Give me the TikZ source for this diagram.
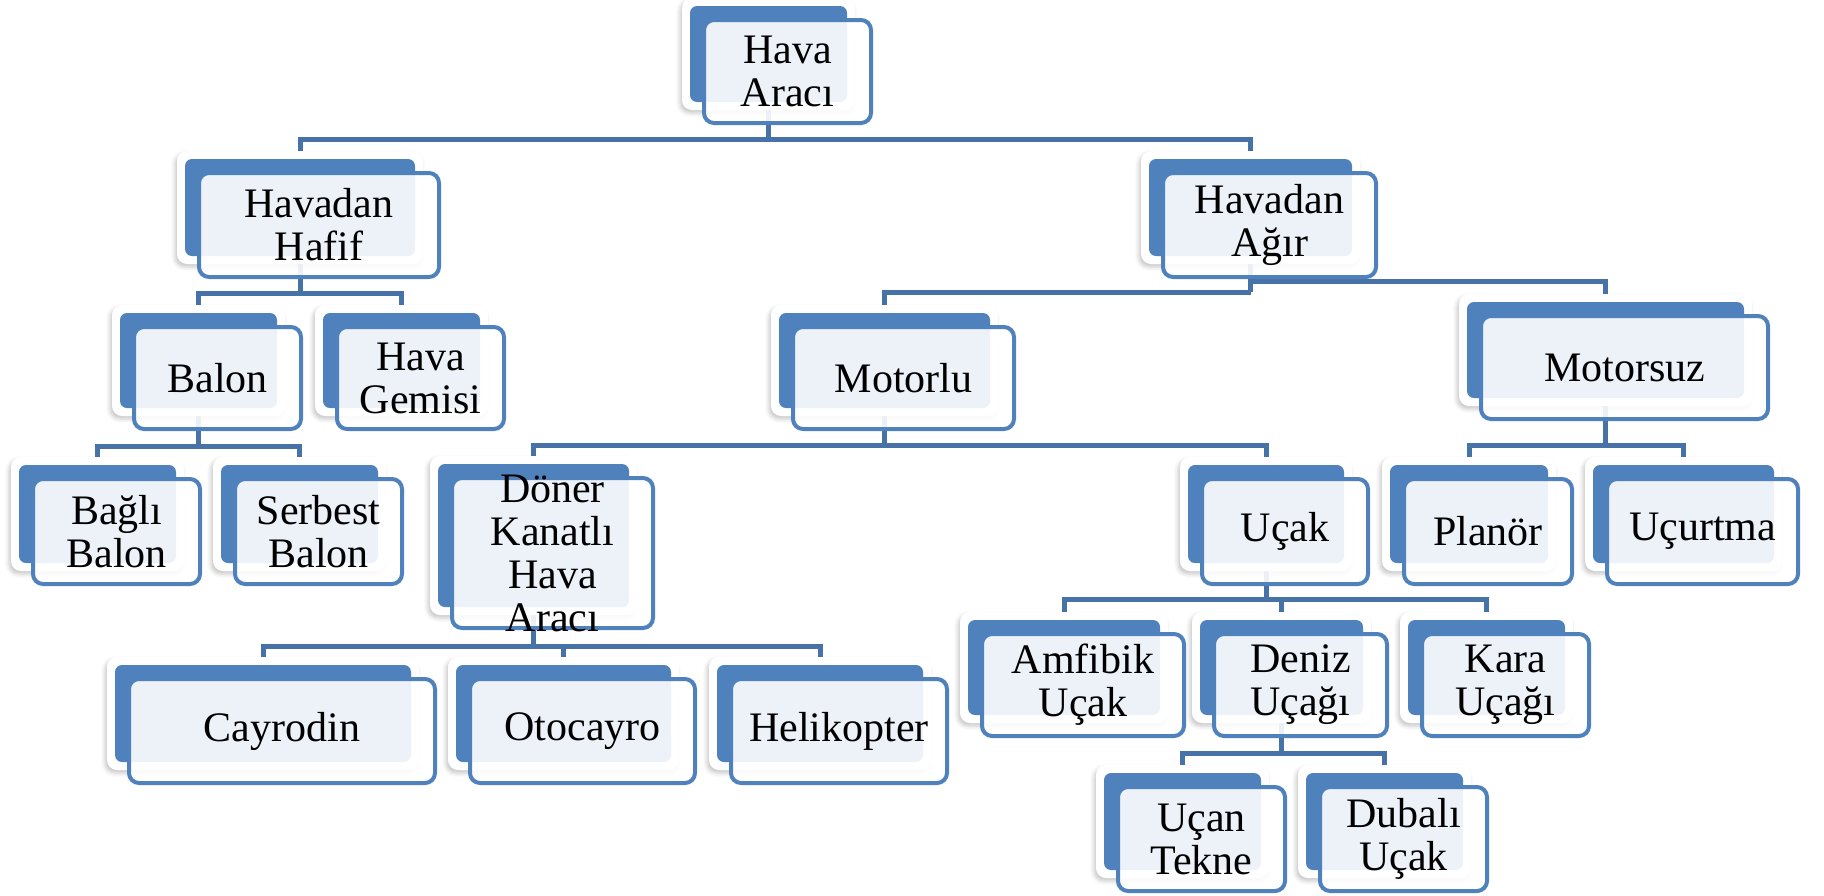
\documentclass[tikz,border=0pt]{standalone}
\usepackage{fontspec}
\setmainfont{Liberation Serif}
\usetikzlibrary{shadows.blur}
\definecolor{boxblue}{RGB}{79,129,189}
\definecolor{linkblue}{RGB}{70,114,168}
\pgfdeclarelayer{bg}
\pgfsetlayers{bg,main}
\tikzset{
  glow/.style={fill=white, rounded corners=10pt, inner sep=0pt, outer sep=0pt,
    blur shadow={shadow xshift=-2pt, shadow yshift=-3pt, shadow blur radius=4pt, shadow opacity=22}},
  back/.style={fill=boxblue, rounded corners=7pt, inner sep=0pt, outer sep=0pt},
  front/.style={draw=boxblue, line width=4pt, fill=white, fill opacity=0.9,
    rounded corners=10pt, inner sep=0pt, outer sep=0pt},
  txt/.style={font=\fontsize{42}{43}\selectfont, align=center, inner sep=0pt, text=black},
  conn/.style={draw=linkblue, line width=5pt},
}
% name, x1, y1, x2, y2 (back box, pixels), text
\newcommand\elem[6]{%
  \pgfmathsetmacro\ecx{(#2+#4)/2}%
  \pgfmathsetmacro\ecy{(#3+#5)/2}%
  \pgfmathsetmacro\gw{#4-#2+16}%
  \pgfmathsetmacro\gh{#5-#3+16}%
  \pgfmathsetmacro\bw{#4-#2}%
  \pgfmathsetmacro\bh{#5-#3}%
  \pgfmathsetmacro\fw{#4-#2+10}%
  \pgfmathsetmacro\fh{#5-#3+7}%
  \pgfmathsetmacro\fcx{\ecx+19}%
  \pgfmathsetmacro\fcy{\ecy+17.5}%
  \node[glow, minimum width=\gw pt, minimum height=\gh pt] (#1-g) at (\ecx,\ecy) {};
  \node[back, minimum width=\bw pt, minimum height=\bh pt] (#1) at (\ecx,\ecy) {};
  \node[front, minimum width=\fw pt, minimum height=\fh pt] (#1-f) at (\fcx,\fcy) {};
  \node[txt] (#1-t) at (#1-f.center) {#6};
}
\begin{document}
\begin{tikzpicture}[x=1pt, y=-1pt]
\useasboundingbox (0,0) rectangle (1824,895);

\elem{hava}{690}{6}{847}{102}{Hava\\Aracı}
\elem{hhafif}{185}{159}{415}{256}{Havadan\\Hafif}
\elem{hagir}{1149}{159}{1352}{256}{Havadan\\Ağır}
\elem{balon}{120}{313}{277}{408}{Balon}
\elem{gemisi}{323}{313}{480}{408}{Hava\\Gemisi}
\elem{motorlu}{779}{313}{990}{408}{Motorlu}
\elem{motorsuz}{1467}{302}{1744}{398}{Motorsuz}
\elem{bagli}{19}{465}{176}{563}{Bağlı\\Balon}
\elem{serbest}{221}{465}{378}{563}{Serbest\\Balon}
\elem{doner}{438}{464}{629}{607}{Döner\\Kanatlı\\Hava\\Aracı}
\elem{ucak}{1188}{465}{1344}{563}{Uçak}
\elem{planor}{1390}{465}{1548}{563}{Planör}
\elem{ucurtma}{1593}{465}{1774}{563}{Uçurtma}
\elem{cayrodin}{115}{665}{411}{762}{Cayrodin}
\elem{otocayro}{456}{665}{671}{762}{Otocayro}
\elem{helikopter}{717}{665}{923}{762}{Helikopter}
\elem{amfibik}{968}{620}{1160}{715}{Amfibik\\Uçak}
\elem{deniz}{1200}{620}{1363}{715}{Deniz\\Uçağı}
\elem{kara}{1408}{620}{1565}{715}{Kara\\Uçağı}
\elem{ucan}{1104}{773}{1261}{870}{Uçan\\Tekne}
\elem{dubali}{1306}{773}{1463}{870}{Dubalı\\Uçak}

\coordinate (y1) at (0,139);
\coordinate (y2) at (0,293);
\coordinate (y3) at (0,446);
\coordinate (y4a) at (0,292);
\coordinate (y4b) at (0,281);
\coordinate (y5) at (0,445);
\coordinate (y6) at (0,445);
\coordinate (y7) at (0,646);
\coordinate (y8) at (0,599);
\coordinate (y9) at (0,753);

\begin{pgfonlayer}{bg}
\draw[conn] (hava.south) -- (hava.south |- y1);
\draw[conn] (hhafif.north) -- (hhafif.north |- y1) -- (hagir.north |- y1) -- (hagir.north);

\draw[conn] (hhafif.south) -- (hhafif.south |- y2);
\draw[conn] (balon.north) -- (balon.north |- y2) -- (gemisi.north |- y2) -- (gemisi.north);

\draw[conn] (balon.south) -- (balon.south |- y3);
\draw[conn] (bagli.north) -- (bagli.north |- y3) -- (serbest.north |- y3) -- (serbest.north);

\draw[conn] (hagir.south) -- (hagir.south |- y4a);
\draw[conn] (motorlu.north) -- (motorlu.north |- y4a) -- (hagir.south |- y4a);
\draw[conn] (hagir.south |- y4b) -- (motorsuz.north |- y4b) -- (motorsuz.north);

\draw[conn] (motorlu.south) -- (motorlu.south |- y5);
\draw[conn] (doner.north) -- (doner.north |- y5) -- (ucak.north |- y5) -- (ucak.north);

\draw[conn] (motorsuz.south) -- (motorsuz.south |- y6);
\draw[conn] (planor.north) -- (planor.north |- y6) -- (ucurtma.north |- y6) -- (ucurtma.north);

\draw[conn] (doner.south) -- (doner.south |- y7);
\draw[conn] (cayrodin.north) -- (cayrodin.north |- y7) -- (helikopter.north |- y7) -- (helikopter.north);
\draw[conn] (otocayro.north |- y7) -- (otocayro.north);

\draw[conn] (ucak.south) -- (ucak.south |- y8);
\draw[conn] (amfibik.north) -- (amfibik.north |- y8) -- (kara.north |- y8) -- (kara.north);
\draw[conn] (deniz.north |- y8) -- (deniz.north);

\draw[conn] (deniz.south) -- (deniz.south |- y9);
\draw[conn] (ucan.north) -- (ucan.north |- y9) -- (dubali.north |- y9) -- (dubali.north);
\end{pgfonlayer}
\end{tikzpicture}
\end{document}
